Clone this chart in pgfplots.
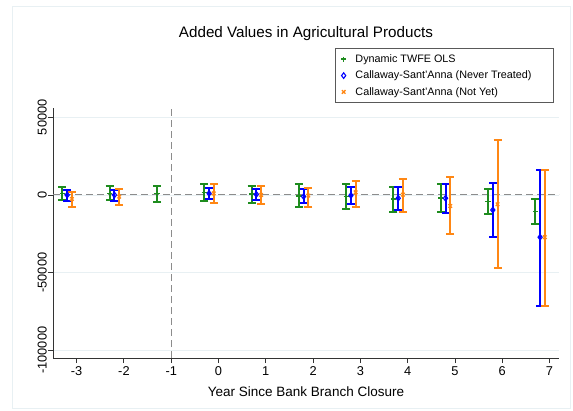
\documentclass[border=0pt]{standalone}
\usepackage{fontspec}
\setmainfont{Liberation Sans}
\usepackage{pgfplots}
\usepackage{pgfplotstable}
\pgfplotsset{compat=1.18}
\definecolor{sgreen}{RGB}{30,140,30}
\definecolor{sblue}{RGB}{0,0,255}
\definecolor{sorange}{RGB}{255,135,20}
\definecolor{gridc}{RGB}{232,240,243}
\definecolor{refc}{RGB}{140,140,140}

\pgfplotstableread{
t est lo hi
-3 1000 -3200 5300
-2 1000 -3200 5800
-1 1000 -4300 5800
0 1500 -3600 6900
1 500 -5400 6000
2 -500 -7900 7100
3 -1000 -9000 6900
4 -2600 -10900 5400
5 -1800 -10700 7100
6 -4300 -12400 4100
7 -10700 -18900 -2400
}\twfe

\pgfplotstableread{
t est lo hi
-3 0 -3900 3200
-2 0 -3900 3200
0 1000 -2600 4700
1 400 -3200 3900
2 -1000 -5400 3600
3 -300 -6000 5400
4 -2100 -9700 4900
5 -2100 -11600 7100
6 -9700 -26800 7900
7 -27200 -71200 16100
}\csnever

\pgfplotstableread{
t est lo hi
-3 -2600 -7500 1700
-2 -1100 -6400 3900
0 1000 -4900 7100
1 0 -6000 5800
2 -400 -7500 4300
3 1700 -7500 9000
4 200 -10900 10300
5 -7100 -25300 11800
6 -6000 -47200 35400
7 -27200 -71200 16100
}\csnotyet

\begin{document}
\begin{tikzpicture}[x=1pt,y=1pt]
\useasboundingbox (0,0) rectangle (573,410);
\draw[gridc, line width=0.8pt] (12,2) rectangle (570,404);
\begin{axis}[
  at={(53pt,52pt)}, anchor=south west,
  scale only axis, width=506pt, height=250pt,
  xmin=-3.5, xmax=7.2, ymin=-105000, ymax=56000,
  axis x line*=bottom, axis y line*=left,
  axis line style={black!80, line width=0.9pt},
  tick align=outside, major tick length=5pt,
  tick style={black!80, line width=0.9pt},
  xtick={-3,-2,-1,0,1,2,3,4,5,6,7},
  xticklabels={-3,-2,-1,0,1,2,3,4,5,6,7},
  ytick={-100000,-50000,0,50000},
  yticklabels={-100000,-50000,0,50000},
  scaled y ticks=false,
  ymajorgrids, grid style={gridc, line width=0.9pt},
  ticklabel style={font=\fontsize{12.8}{14}\selectfont},
  yticklabel style={rotate=90, anchor=south, inner sep=1pt},
  xlabel={Year Since Bank Branch Closure},
  xlabel style={font=\fontsize{13.5}{15}\selectfont, at={(axis description cs:0.5,0)}, anchor=base, yshift=-38pt},
  title={Added Values in Agricultural Products},
  title style={font=\fontsize{15.2}{17}\selectfont, at={(axis description cs:0.5,1)}, anchor=base, yshift=65pt},
  clip=false,
  legend cell align=left,
  legend image code/.code={\path (-3pt,0pt) (9pt,0pt);
    \draw[#1] plot coordinates {(0pt,0pt)};},
  legend style={at={(rel axis cs:0.99,1.02)}, anchor=south east,
    draw=black!65, line width=0.8pt, font=\fontsize{10.8}{12}\selectfont,
    row sep=3pt, inner xsep=4pt, inner ysep=4pt},
  error bars/y dir=both, error bars/y explicit,
]
\draw[refc, line width=1pt, dash pattern=on 7pt off 4pt] (axis cs:-3.5,0) -- (axis cs:7.2,0);
\draw[refc, line width=1pt, dash pattern=on 7pt off 4pt] (axis cs:-1,-105000) -- (axis cs:-1,56000);

\addplot[only marks, sgreen, mark=+, mark size=2.6pt, line width=1.6pt,
  error bars/.cd, error bar style={sgreen, line width=2pt},
  error mark options={sgreen, line width=2pt, mark size=4pt, rotate=90}]
  table[x expr=\thisrow{t}-0.3, y=est,
        y error plus expr=\thisrow{hi}-\thisrow{est},
        y error minus expr=\thisrow{est}-\thisrow{lo}] {\twfe};
\addlegendentry{Dynamic TWFE OLS}

\addplot[only marks, sblue, mark=diamond, mark size=2.8pt, line width=1.1pt,
  mark options={fill=white, line width=1.1pt},
  error bars/.cd, error bar style={sblue, line width=2pt},
  error mark options={sblue, line width=2pt, mark size=4pt, rotate=90}]
  table[x expr=\thisrow{t}-0.2, y=est,
        y error plus expr=\thisrow{hi}-\thisrow{est},
        y error minus expr=\thisrow{est}-\thisrow{lo}] {\csnever};
\addlegendentry{Callaway-Sant'Anna (Never Treated)\rule{16pt}{0pt}}

\addplot[only marks, sorange, mark=x, mark size=2.5pt, line width=1.3pt,
  error bars/.cd, error bar style={sorange, line width=2pt},
  error mark options={sorange, line width=2pt, mark size=4pt, rotate=90}]
  table[x expr=\thisrow{t}-0.1, y=est,
        y error plus expr=\thisrow{hi}-\thisrow{est},
        y error minus expr=\thisrow{est}-\thisrow{lo}] {\csnotyet};
\addlegendentry{Callaway-Sant'Anna (Not Yet)}
\end{axis}
\end{tikzpicture}
\end{document}
